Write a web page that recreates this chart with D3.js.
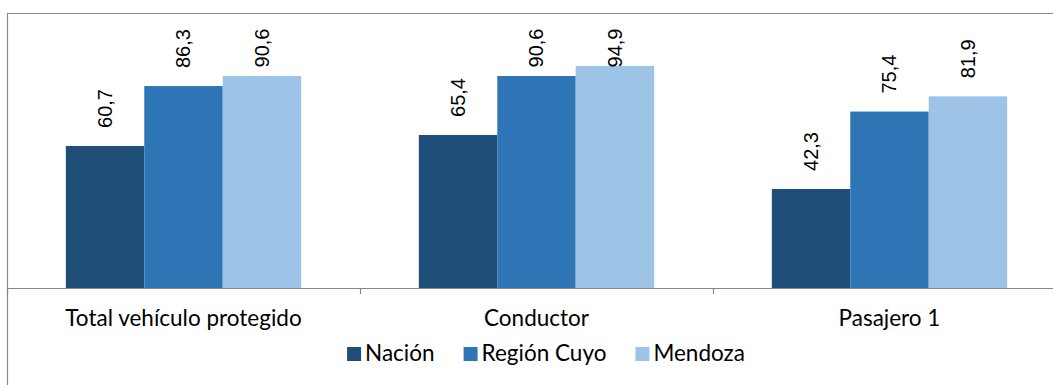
<!DOCTYPE html>
<html>
<head>
<meta charset="utf-8">
<script src="https://cdn.jsdelivr.net/npm/d3@7"></script>
<style>
  html, body { margin: 0; padding: 0; background: #ffffff; }
  svg { display: block; }
</style>
</head>
<body>
<svg id="chart" width="1053" height="385"></svg>
<script>
// Categories and series
const categories = ["Total vehículo protegido", "Conductor", "Pasajero 1"];
const seriesNames = ["Nación", "Región Cuyo", "Mendoza"];
const nacion = [60.7, 65.4, 42.3];
const regionCuyo = [86.3, 90.6, 75.4];
const mendoza = [90.6, 94.9, 81.9];
const seriesValues = [nacion, regionCuyo, mendoza];
const colors = ["#1F4E79", "#2E75B6", "#9DC3E6"];

const svg = d3.select("#chart");
const W = 1053, H = 385;

const frameLeft = 7, frameTop = 13;
const axisY = 288;
const plotLeft = 7, plotRight = 1066;

const x = d3.scaleBand().domain(categories).range([plotLeft, plotRight]).paddingInner(0).paddingOuter(0);
const y = d3.scaleLinear().domain([0, 100]).range([axisY, axisY - 234]);

// gap width 150% of a bar
const barW = x.bandwidth() / (seriesNames.length + 1.5);
const xs = d3.scaleBand().domain(seriesNames)
  .range([(x.bandwidth() - barW * 3) / 2, (x.bandwidth() + barW * 3) / 2]);

// Chart frame (top and left edges)
svg.append("path")
  .attr("d", `M${frameLeft + 0.5},${H} V${frameTop + 0.5} H${W}`)
  .attr("fill", "none").attr("stroke", "#8a8a8a").attr("stroke-width", 1.2);

// Bars
const rows = categories.map((c, i) => ({ cat: c, vals: seriesNames.map((s, j) => ({ s, j, v: seriesValues[j][i] })) }));
const groups = svg.append("g").selectAll("g").data(rows).join("g")
  .attr("transform", d => `translate(${x(d.cat)},0)`);
groups.selectAll("rect").data(d => d.vals).join("rect")
  .attr("x", d => xs(d.s))
  .attr("y", d => y(d.v))
  .attr("width", xs.bandwidth())
  .attr("height", d => y(0) - y(d.v))
  .attr("fill", d => colors[d.j]);

// Rotated value labels above bars
groups.selectAll("text").data(d => d.vals).join("text")
  .attr("transform", d => {
    const cx = xs(d.s) + xs.bandwidth() / 2;
    const cy = Math.max(y(d.v) - 37.5, 48);
    return `translate(${cx},${cy}) rotate(-90)`;
  })
  .attr("text-anchor", "middle")
  .attr("dy", "0.34em")
  .attr("font-family", "'Liberation Sans', Arial, sans-serif")
  .attr("font-size", 20)
  .attr("fill", "#000")
  .text(d => d3.format(".1f")(d.v).replace(".", ","));

// Category axis
const axis = d3.axisBottom(x).tickSize(0).tickPadding(0);
const ax = svg.append("g").attr("transform", `translate(0,${axisY})`).call(axis);
ax.select(".domain").remove();
ax.selectAll(".tick line").remove();
ax.selectAll(".tick text")
  .attr("y", 326 - axisY).attr("dy", 0)
  .attr("font-family", "Lato, 'Open Sans', sans-serif")
  .attr("font-size", 22.5)
  .attr("fill", "#000");

svg.append("line")
  .attr("x1", plotLeft).attr("x2", W).attr("y1", axisY + 0.5).attr("y2", axisY + 0.5)
  .attr("stroke", "#878787").attr("stroke-width", 1.2);
const bounds = categories.map(c => x(c)).concat([x(categories[categories.length - 1]) + x.bandwidth()]);
svg.append("g").selectAll("line").data(bounds.filter(b => b <= W)).join("line")
  .attr("x1", d => Math.round(d) + 0.5).attr("x2", d => Math.round(d) + 0.5)
  .attr("y1", axisY).attr("y2", axisY + 6)
  .attr("stroke", "#878787").attr("stroke-width", 1.2);

// Legend
const legend = svg.append("g");
const items = legend.selectAll("g").data(seriesNames).join("g");
items.append("rect").attr("width", 14).attr("height", 14).attr("y", 361 - 14)
  .attr("fill", (d, i) => colors[i]);
items.append("text").attr("x", 18).attr("y", 361)
  .attr("font-family", "Lato, 'Open Sans', sans-serif")
  .attr("font-size", 22.5).attr("fill", "#000").text(d => d);
const gap = 29;
const widths = items.nodes().map(n => 18 + d3.select(n).select("text").node().getComputedTextLength());
const total = d3.sum(widths) + gap * (widths.length - 1);
let cursor = 546 - total / 2;
items.each(function (d, i) {
  d3.select(this).attr("transform", `translate(${cursor},0)`);
  cursor += widths[i] + gap;
});
</script>
</body>
</html>
